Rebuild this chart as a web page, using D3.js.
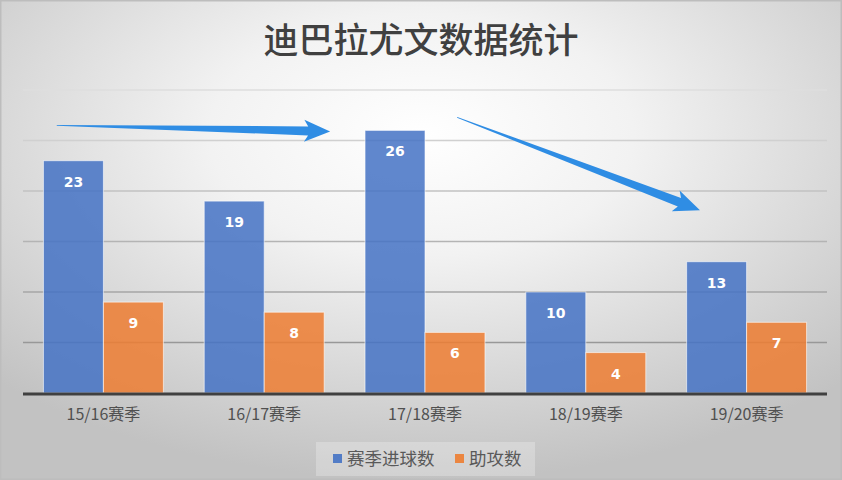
<!DOCTYPE html>
<html><head><meta charset="utf-8">
<script src="https://cdn.jsdelivr.net/npm/d3@7"></script>
<style>html,body{margin:0;padding:0;overflow:hidden;background:#fff}</style>
</head><body>
<svg id="chart" width="842" height="480"></svg>
<script>
const title = "迪巴拉尤文数据统计";
const categories = ["15/16赛季","16/17赛季","17/18赛季","18/19赛季","19/20赛季"];
const goals = [23,19,26,10,13];
const assists = [9,8,6,4,7];
const seriesNames = ["赛季进球数","助攻数"];
const seriesColors = ["#4472C4","#ED7D31"];
const yTicks = [0,5,10,15,20,25,30];
// arrow annotations in data units: category-band position (index units) and value
const arrows = [
  {from:[0.21,26.5], to:[1.91,25.9]},
  {from:[2.70,27.3], to:[4.21,18.1]}
];

const W = 842, H = 480;
const svg = d3.select("#chart");
const defs = svg.append("defs");
const rg = defs.append("radialGradient").attr("id","bg")
  .attr("cx","50%").attr("cy","28%").attr("r","72%");
rg.append("stop").attr("offset","0%").attr("stop-color","#ffffff");
rg.append("stop").attr("offset","35%").attr("stop-color","#f2f2f2");
rg.append("stop").attr("offset","100%").attr("stop-color","#c2c2c2");
svg.append("rect").attr("width",W).attr("height",H).attr("fill","url(#bg)");
svg.append("rect").attr("x",0.75).attr("y",0.75).attr("width",W-1.5).attr("height",H-1.5)
  .attr("fill","none").attr("stroke","#bdbdbd").attr("stroke-width",1.5);

const plot = {left:23, right:827, top:90, bottom:393};
const x = d3.scaleBand().domain(categories).range([plot.left, plot.right]).paddingInner(0).paddingOuter(0);
const barW = x.bandwidth()*0.373;
const groupW = barW*2;
const y = d3.scaleLinear().domain([0,30]).range([plot.bottom, plot.top]);

// gridlines
svg.append("g").selectAll("line").data(yTicks.filter(d=>d>0)).join("line")
  .attr("x1",plot.left).attr("x2",plot.right)
  .attr("y1",d=>y(d)).attr("y2",d=>y(d))
  .attr("stroke",d=>d3.interpolateRgb("#8a8a8a","#dedede")(d/30))
  .attr("stroke-width",1.5);

// bars
const series = [goals, assists];
series.forEach((vals, si) => {
  const g = svg.append("g");
  g.selectAll("rect").data(vals).join("rect")
    .attr("x",(d,i)=>x(categories[i]) + (x.bandwidth()-groupW)/2 + si*barW)
    .attr("y",d=>y(d)).attr("width",barW).attr("height",d=>y(0)-y(d))
    .attr("fill",seriesColors[si]).attr("fill-opacity",0.85)
    .attr("stroke","#ffffff").attr("stroke-opacity",0.6).attr("stroke-width",1);
  g.selectAll("text").data(vals).join("text")
    .attr("x",(d,i)=>x(categories[i]) + (x.bandwidth()-groupW)/2 + si*barW + barW/2)
    .attr("y",d=>y(d)+26)
    .attr("text-anchor","middle")
    .attr("font-family","'DejaVu Sans', sans-serif").attr("font-weight","bold")
    .attr("font-size",14).attr("fill","#ffffff")
    .text(d=>d);
});

// baseline
svg.append("line").attr("x1",plot.left).attr("x2",plot.right)
  .attr("y1",y(0)+1).attr("y2",y(0)+1).attr("stroke","#404040").attr("stroke-width",3);

// category axis labels
const xAxis = d3.axisBottom(x).tickSize(0).tickPadding(14);
const ax = svg.append("g").attr("transform",`translate(0,${y(0)+2})`).call(xAxis);
ax.select(".domain").remove();
ax.selectAll("text").attr("font-family","'Noto Sans CJK SC', sans-serif")
  .attr("font-size",16).attr("fill","#505050");

// title
svg.append("text").attr("x",W/2).attr("y",53).attr("text-anchor","middle")
  .attr("font-family","'Noto Sans CJK SC', sans-serif").attr("font-size",35)
  .attr("font-weight",500)
  .attr("fill","#404040").text(title);

// arrows (tapered)
const bx = i => plot.left + i*x.step();
const arrowG = svg.append("g");
arrows.forEach(a => {
  const x0 = bx(a.from[0]), y0 = y(a.from[1]);
  const x1 = bx(a.to[0]), y1 = y(a.to[1]);
  const dx = x1-x0, dy = y1-y0, L = Math.hypot(dx,dy);
  const ux = dx/L, uy = dy/L, nx = -uy, ny = ux;
  const headL = 22, headW = 11, shaftW = 4.5, tailW = 0.4;
  const hx = x1-ux*headL, hy = y1-uy*headL;
  const pts = [
    [x0+nx*tailW, y0+ny*tailW],
    [hx+nx*shaftW, hy+ny*shaftW],
    [hx-ux*4+nx*headW, hy-uy*4+ny*headW],
    [x1, y1],
    [hx-ux*4-nx*headW, hy-uy*4-ny*headW],
    [hx-nx*shaftW, hy-ny*shaftW],
    [x0-nx*tailW, y0-ny*tailW]
  ];
  arrowG.append("path").attr("d", d3.line()(pts)+"Z").attr("fill","#2F8DE4");
});

// legend
const lg = svg.append("g");
lg.append("rect").attr("x",316).attr("y",442).attr("width",219).attr("height",34)
  .attr("fill","#ffffff").attr("fill-opacity",0.25);
const items = [{x:333},{x:455}];
seriesNames.forEach((n,i)=>{
  lg.append("rect").attr("x",items[i].x).attr("y",454).attr("width",9).attr("height",9)
    .attr("fill",seriesColors[i]).attr("fill-opacity",0.9);
  lg.append("text").attr("x",items[i].x+14).attr("y",465)
    .attr("font-family","'Noto Sans CJK SC', sans-serif").attr("font-size",17.5)
    .attr("fill","#595959").text(n);
});
</script>
</body></html>
